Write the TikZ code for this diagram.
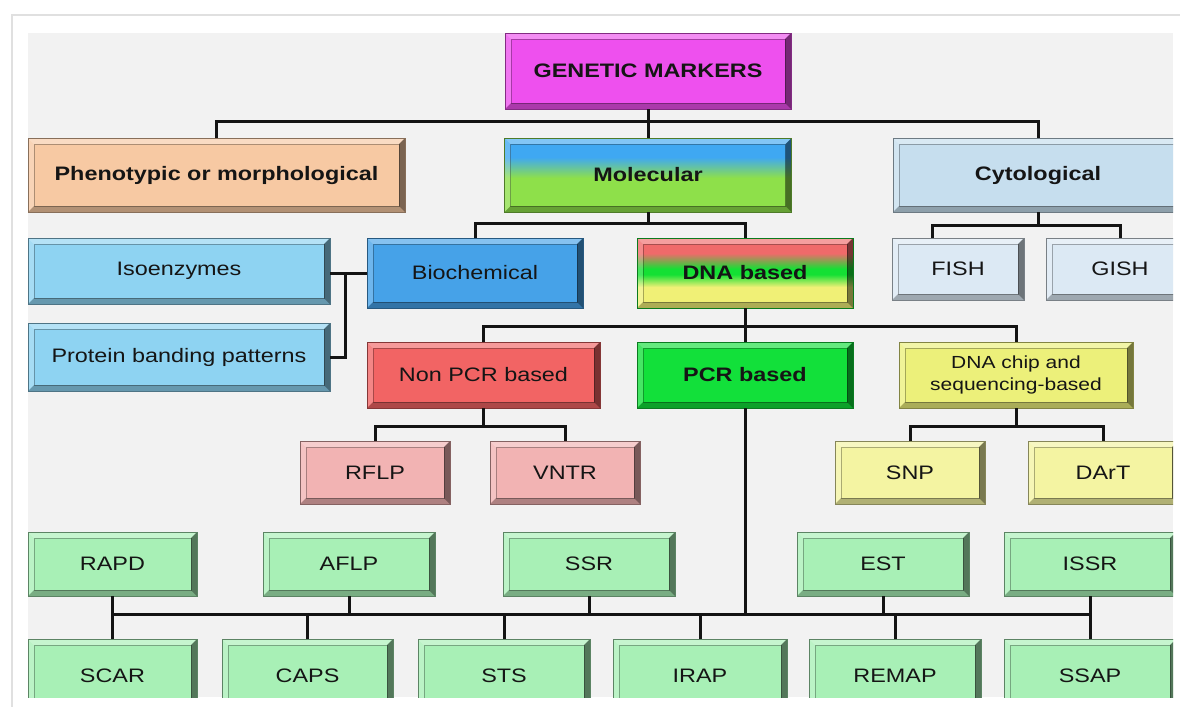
\documentclass[tikz,border=0pt]{standalone}
\usepackage{fontspec}
\setmainfont{Liberation Sans}[FakeStretch=1.2]
\usetikzlibrary{calc}
\definecolor{txt}{HTML}{151515}
\definecolor{panel}{HTML}{F2F2F2}
\definecolor{cMag}{HTML}{EE50EE}
\definecolor{cPeach}{HTML}{F7C9A3}
\definecolor{cCyto}{HTML}{C6DEEE}
\definecolor{cSky}{HTML}{8ED3F2}
\definecolor{cBio}{HTML}{46A2E8}
\definecolor{cFish}{HTML}{DCE9F4}
\definecolor{cNon}{HTML}{F26464}
\definecolor{cPcr}{HTML}{12E03A}
\definecolor{cChip}{HTML}{ECF07A}
\definecolor{cPink}{HTML}{F2B3B3}
\definecolor{cYel}{HTML}{F4F4A2}
\definecolor{cGrn}{HTML}{A8F0B6}
\definecolor{molB}{HTML}{3FA8F2}
\definecolor{molG}{HTML}{8EE04A}
\definecolor{dnaR}{HTML}{F06A6A}
\definecolor{dnaG}{HTML}{14E034}
\definecolor{dnaY}{HTML}{F0F076}
\pgfdeclareverticalshading{molsh}{100bp}{color(0bp)=(molG); color(48bp)=(molG); color(62bp)=(molB); color(100bp)=(molB)}
\pgfdeclareverticalshading{dnash}{100bp}{color(0bp)=(dnaY); color(40bp)=(dnaY); color(49bp)=(dnaG); color(53bp)=(dnaG); color(64bp)=(dnaR); color(100bp)=(dnaR)}
\newcommand\fsz{\fontsize{19.5}{22}\selectfont}
\newcommand\mkbox[7]{\node[box=#6,minimum width={(#4)-(#2)},minimum height={(#5)-(#3)}] (#1) at ({((#2)+(#4))/2},{((#3)+(#5))/2}) {#7};}
\tikzset{
  bevel/.style={path picture={
    \path (path picture bounding box.north west) coordinate (pA)
          (path picture bounding box.north east) coordinate (pB)
          (path picture bounding box.south east) coordinate (pC)
          (path picture bounding box.south west) coordinate (pD);
    \fill[white,opacity=.35] (pA) -- (pB) -- ([shift={(-6pt,-6pt)}]pB) -- ([shift={(6pt,-6pt)}]pA) -- cycle;
    \fill[white,opacity=.22] (pA) -- ([shift={(6pt,-6pt)}]pA) -- ([shift={(6pt,6pt)}]pD) -- (pD) -- cycle;
    \fill[black,opacity=.5] (pB) -- (pC) -- ([shift={(-6pt,6pt)}]pC) -- ([shift={(-6pt,-6pt)}]pB) -- cycle;
    \fill[black,opacity=.28] (pD) -- (pC) -- ([shift={(-6pt,6pt)}]pC) -- ([shift={(6pt,6pt)}]pD) -- cycle;
    \draw[black,opacity=.3,line width=.6pt] ([shift={(6pt,-6pt)}]pA) rectangle ([shift={(-6pt,6pt)}]pC);
  }},
  box/.style={draw=#1!55!black, fill=#1, line width=1pt, inner sep=0pt, outer sep=0pt,
    align=center, text=txt, font=\fsz, bevel},
  conn/.style={line width=3pt, black!92}
}
\begin{document}
\begin{tikzpicture}[x=1pt,y=-1pt]
\useasboundingbox (0,0) rectangle (1180,707);
\fill[white] (0,0) rectangle (1180,707);
\draw[black!12,line width=1.5pt] (12,707) -- (12,15) -- (1180,15);
\fill[panel] (28,33) rectangle (1173,697);
\begin{scope}
\clip (28,33) rectangle (1173,697);
% level 0
\mkbox{gm}{505}{33}{791}{109}{cMag}{\bfseries GENETIC MARKERS}
% level 1
\mkbox{pheno}{28}{138}{405}{212}{cPeach}{\bfseries Phenotypic or morphological}
\node[box=molG,shading=molsh,shade,minimum width=287,minimum height=74] (mol) at (648,175) {\bfseries Molecular};
\mkbox{cyto}{893}{138}{1183}{212}{cCyto}{\bfseries Cytological}
% level 2
\mkbox{iso}{28}{238}{330}{304}{cSky}{Isoenzymes}
\mkbox{prot}{28}{323}{330}{391}{cSky}{Protein banding patterns}
\mkbox{bio}{367}{238}{583}{308}{cBio}{Biochemical}
\node[box=dnaG,shading=dnash,shade,minimum width=216,minimum height=70] (dna) at (745,273) {\bfseries DNA based};
\mkbox{fish}{892}{238}{1024}{300}{cFish}{FISH}
\mkbox{gish}{1046}{238}{1194}{300}{cFish}{GISH}
% level 3
\mkbox{nonpcr}{367}{342}{600}{408}{cNon}{Non PCR based}
\mkbox{pcr}{637}{342}{853}{408}{cPcr}{\bfseries PCR based}
\mkbox{chip}{899}{342}{1133}{408}{cChip}{\fontsize{17.5}{22}\selectfont DNA chip and\\\fontsize{17.5}{22}\selectfont sequencing-based}
% level 4
\mkbox{rflp}{300}{441}{450}{504}{cPink}{RFLP}
\mkbox{vntr}{490}{441}{640}{504}{cPink}{VNTR}
\mkbox{snp}{835}{441}{985}{504}{cYel}{SNP}
\mkbox{dart}{1028}{441}{1178}{504}{cYel}{DArT}
% PCR markers
\mkbox{rapd}{28}{532}{197}{596}{cGrn}{RAPD}
\mkbox{aflp}{263}{532}{435}{596}{cGrn}{AFLP}
\mkbox{ssr}{503}{532}{675}{596}{cGrn}{SSR}
\mkbox{est}{797}{532}{969}{596}{cGrn}{EST}
\mkbox{issr}{1004}{532}{1176}{596}{cGrn}{ISSR}
\mkbox{scar}{28}{639}{197}{712}{cGrn}{SCAR}
\mkbox{caps}{222}{639}{393}{712}{cGrn}{CAPS}
\mkbox{sts}{418}{639}{590}{712}{cGrn}{STS}
\mkbox{irap}{613}{639}{787}{712}{cGrn}{IRAP}
\mkbox{remap}{809}{639}{981}{712}{cGrn}{REMAP}
\mkbox{ssap}{1004}{639}{1176}{712}{cGrn}{SSAP}
\end{scope}
% connectors
\draw[conn] (gm.south) -- (mol.north);
\draw[conn] (gm.south) ++(0,12) coordinate (b1);
\draw[conn] (pheno.north) |- (b1) -| (cyto.north);
\draw[conn] (mol.south) -- ++(0,11) coordinate (b2);
\draw[conn] (bio.north) |- (b2) -| (dna.north);
\draw[conn] (cyto.south) -- ++(0,13) coordinate (b3);
\draw[conn] ([xshift=-26pt]fish.north) |- (b3) -| (gish.north);
\draw[conn] (bio.west) -- (bio.west -| iso.east);
\coordinate (j) at ([xshift=15pt]iso.east |- bio.west);
\draw[conn] (j) |- (prot.east);
\draw[conn] (dna.south) -- (pcr.north);
\draw[conn] (dna.south) ++(0,18) coordinate (b4);
\draw[conn] (nonpcr.north) |- (b4) -| (chip.north);
\draw[conn] (nonpcr.south) -- ++(0,18) coordinate (b5);
\draw[conn] (rflp.north) |- (b5) -| (vntr.north);
\draw[conn] (chip.south) -- ++(0,18) coordinate (b6);
\draw[conn] (snp.north) |- (b6) -| (dart.north);
\draw[conn] (pcr.south) -- ++(0,206) coordinate (b7);
\draw[conn] (rapd.south |- b7) -- (issr.south |- b7);
\foreach \n in {rapd,aflp,ssr,est,issr}{\draw[conn] (\n.south) -- (\n.south |- b7);}
\foreach \n in {scar,caps,sts,irap,remap,ssap}{\draw[conn] (\n.north) -- (\n.north |- b7);}
\end{tikzpicture}
\end{document}
